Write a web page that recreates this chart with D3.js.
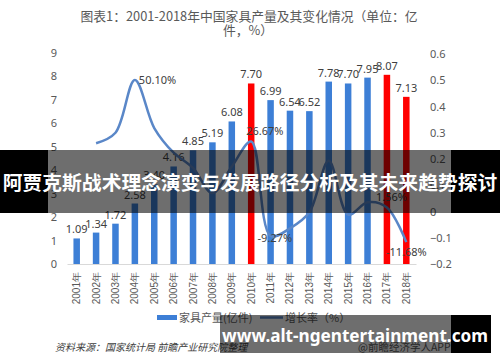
<!DOCTYPE html>
<html>
<head>
<meta charset="utf-8">
<script src="https://cdn.jsdelivr.net/npm/d3@7/dist/d3.min.js"></script>
<style>
  html, body { margin: 0; padding: 0; background: #fff; }
  svg { display: block; font-family: "Noto Sans CJK SC", "Noto Sans", sans-serif; }
</style>
</head>
<body>
<svg id="chart" width="500" height="362"></svg>
<script>
const years = ["2001年","2002年","2003年","2004年","2005年","2006年","2007年","2008年","2009年",
  "2010年","2011年","2012年","2013年","2014年","2015年","2016年","2017年","2018年"];
const output = [1.09,1.34,1.72,2.58,3.40,4.16,4.85,5.19,6.08,7.70,6.99,6.54,6.52,7.78,7.70,7.95,8.07,7.13];
const redYears = ["2010年","2017年","2018年"];
// growth rate, starts at 2002
const growthYears = years.slice(1);
const growth = [0.26,0.30,0.501,0.318,0.224,0.166,0.07,0.171,0.2667,-0.0927,-0.064,-0.003,0.193,-0.012,0.035,0.0156,-0.1168];
const growthLabels = {"2004年":"50.10%","2010年":"26.67%","2011年":"-9.27%","2017年":"1.56%","2018年":"-11.68%"};
const leftTicks = [0,1,2,3,4,5,6,7,8,9];
const rightTicks = [-0.2,-0.1,0,0.1,0.2,0.3,0.4,0.5,0.6];

const svg = d3.select("#chart");

const x = d3.scaleBand().domain(years).range([67, 416]);
const yL = d3.scaleLinear().domain([0, 9]).range([264, 53]);
const yR = d3.scaleLinear().domain([-0.2, 0.6]).range([264, 54]);

// title
const title = svg.append("g").attr("fill", "#595959").attr("font-size", 12.8).attr("text-anchor", "middle");
title.append("text").attr("x", 249).attr("y", 21).text("图表1：2001-2018年中国家具产量及其变化情况（单位：亿");
title.append("text").attr("x", 248).attr("y", 35).text("件，%）");

// axes
const axL = svg.append("g").attr("transform", "translate(60,0)")
  .call(d3.axisLeft(yL).tickValues(leftTicks).tickSize(0).tickPadding(3).tickFormat(d3.format("d")));
const axR = svg.append("g").attr("transform", "translate(427,0)")
  .call(d3.axisRight(yR).tickValues(rightTicks).tickSize(0).tickPadding(3).tickFormat(d => d === 0 ? "0" : d3.format(".1f")(d)));
[axL, axR].forEach(a => {
  a.select(".domain").remove();
  a.selectAll("text").attr("fill", "#595959").attr("font-size", 11).attr("font-family", "Noto Sans, sans-serif");
});

const axB = svg.append("g").attr("transform", "translate(0,264)")
  .call(d3.axisBottom(x).tickSize(0));
axB.select(".domain").attr("stroke", "#d9d9d9");
axB.selectAll("text")
  .attr("fill", "#595959").attr("font-size", 10)
  .attr("transform", "rotate(-90)")
  .attr("text-anchor", "end")
  .attr("x", -8).attr("y", 0).attr("dy", "0.35em");

// bars
const bw = 6.5;
svg.append("g").selectAll("rect").data(years).join("rect")
  .attr("x", d => x(d) + x.bandwidth() / 2 - bw / 2)
  .attr("width", bw)
  .attr("y", (d, i) => yL(output[i]))
  .attr("height", (d, i) => yL(0) - yL(output[i]))
  .attr("fill", d => redYears.includes(d) ? "#ff0000" : "#3d7fd6");

svg.append("g").attr("fill", "#404040").attr("font-size", 11).attr("text-anchor", "middle")
  .attr("font-family", "Noto Sans, sans-serif")
  .selectAll("text").data(years).join("text")
  .attr("x", d => x(d) + x.bandwidth() / 2)
  .attr("y", (d, i) => yL(output[i]) - 5)
  .text((d, i) => output[i].toFixed(2));

// growth line
const line = d3.line()
  .x(d => x(d[0]) + x.bandwidth() / 2)
  .y(d => yR(d[1]))
  .curve(d3.curveCatmullRom.alpha(0.5));
const pts = growthYears.map((d, i) => [d, growth[i]]);
svg.append("path").datum(pts)
  .attr("d", line)
  .attr("fill", "none")
  .attr("stroke", "#5a87c8")
  .attr("stroke-width", 2.5);

const lbl = svg.append("g").attr("fill", "#404040").attr("font-size", 11).attr("font-family", "Noto Sans, sans-serif");
pts.filter(p => growthLabels[p[0]]).forEach(p => {
  const cx = x(p[0]) + x.bandwidth() / 2, cy = yR(p[1]);
  let dx = 4, dy = 4, anchor = "start";
  if (p[0] === "2010年") { dx = -5; dy = -6; }
  if (p[0] === "2011年") { dx = -13; dy = 6; }
  if (p[0] === "2017年") { dx = -11; dy = -6; }
  if (p[0] === "2018年") { dx = 0; dy = 14; anchor = "middle"; }
  lbl.append("text").attr("x", cx + dx).attr("y", cy + dy).attr("text-anchor", anchor).text(growthLabels[p[0]]);
});

// legend
const lg = svg.append("g").attr("font-size", 11).attr("fill", "#595959");
lg.append("rect").attr("x", 157).attr("y", 315).attr("width", 20).attr("height", 5).attr("fill", "#3d7fd6");
lg.append("text").attr("x", 179).attr("y", 321.5).text("家具产量(亿件)");
lg.append("line").attr("x1", 260).attr("x2", 283).attr("y1", 317.5).attr("y2", 317.5).attr("stroke", "#5a87c8").attr("stroke-width", 2.5);
lg.append("text").attr("x", 285).attr("y", 321.5).text("增长率（%）");

// source
svg.append("text").attr("x", 55).attr("y", 351).attr("font-size", 10).attr("fill", "#404040")
  .attr("font-style", "italic").text("资料来源：国家统计局 前瞻产业研究院整理");
svg.append("text").attr("x", 358).attr("y", 351).attr("font-size", 10.5).attr("fill", "#595959")
  .text("@前瞻经济学人APP");

// overlay banners
const ov = svg.append("g");
ov.append("rect").attr("x", 0).attr("y", 150).attr("width", 48).attr("height", 63).attr("fill", "#000");
ov.append("rect").attr("x", 451).attr("y", 150).attr("width", 49).attr("height", 63).attr("fill", "#000");
ov.append("rect").attr("x", 48).attr("y", 150).attr("width", 403).attr("height", 63).attr("fill", "rgba(0,0,0,0.57)");
ov.append("text").attr("x", 250).attr("y", 190).attr("text-anchor", "middle")
  .attr("font-size", 19.8).attr("font-weight", "bold").attr("fill", "#fff")
  .text("阿贾克斯战术理念演变与发展路径分析及其未来趋势探讨");

ov.append("rect").attr("x", 220).attr("y", 315).attr("width", 231).attr("height", 38).attr("fill", "rgba(0,0,0,0.57)");
ov.append("rect").attr("x", 451).attr("y", 315).attr("width", 40).attr("height", 38).attr("fill", "#000");
ov.append("text").attr("x", 222).attr("y", 342).attr("font-family", "Noto Sans, sans-serif")
  .attr("font-size", 18).attr("font-weight", "bold").attr("fill", "#fff")
  .attr("textLength", 266).attr("lengthAdjust", "spacingAndGlyphs")
  .text("www.alt-ngentertainment.com");
</script>
</body>
</html>
